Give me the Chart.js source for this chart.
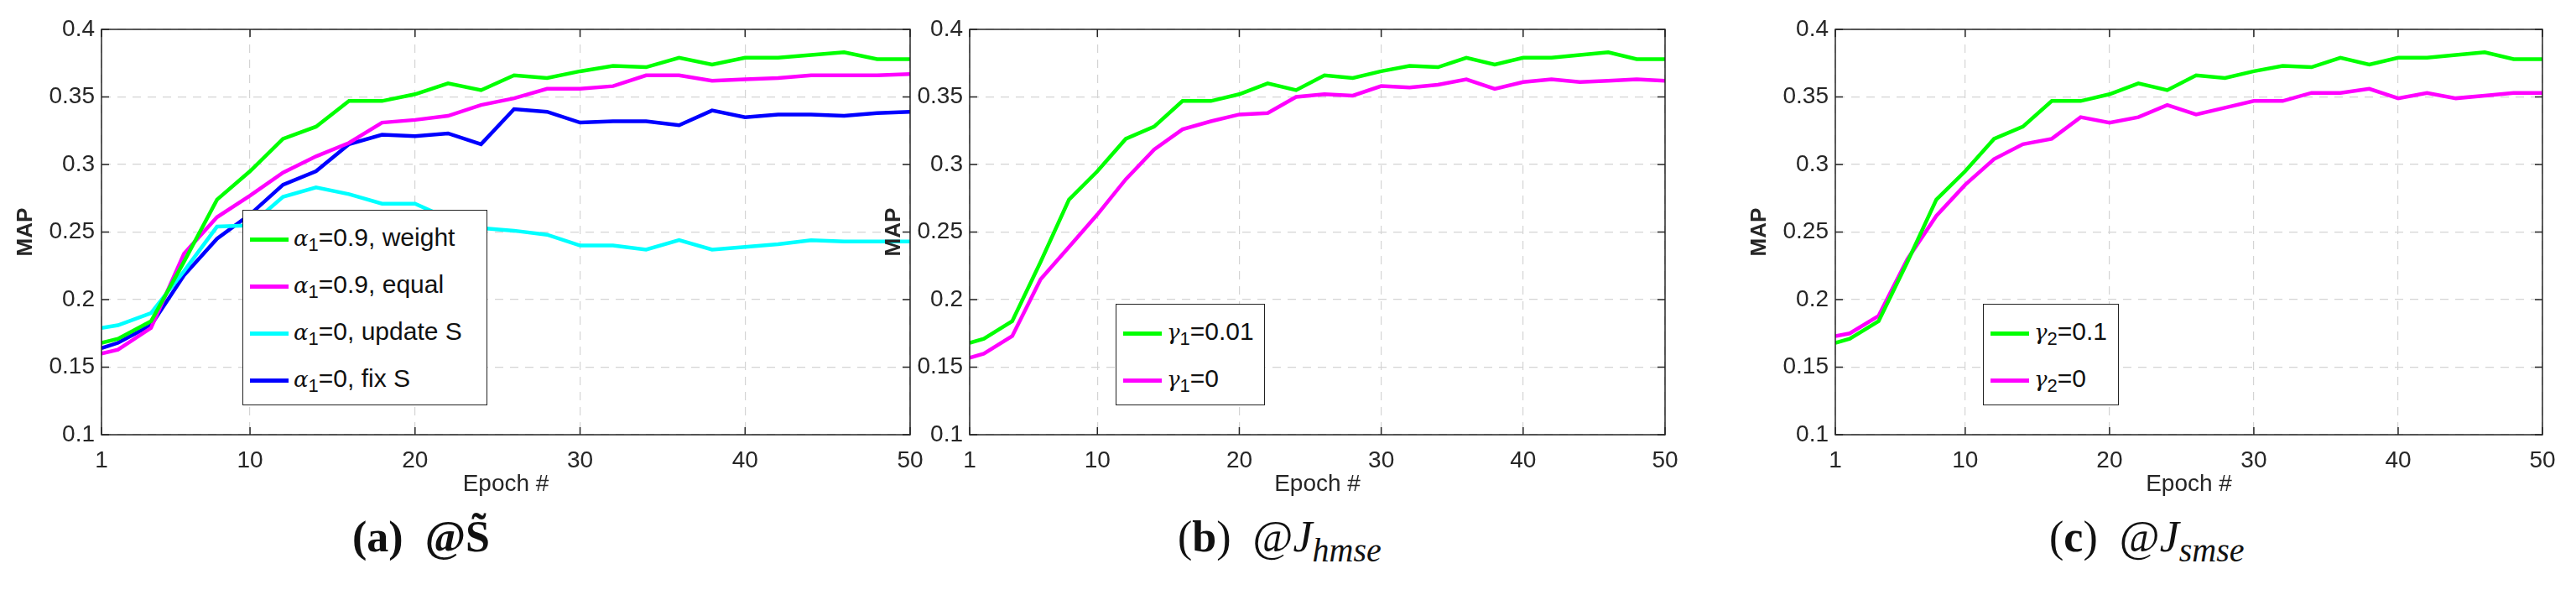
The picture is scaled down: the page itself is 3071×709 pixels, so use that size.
<!DOCTYPE html>
<html><head><meta charset="utf-8">
<script src="https://cdn.jsdelivr.net/npm/chart.js@4"></script>
<style>
body{margin:0;background:#fff;width:3071px;height:709px;position:relative;overflow:hidden;font-family:"Liberation Sans Narrow","Liberation Sans",sans-serif}
.wrap{position:absolute;top:0;height:598px}
.leg{position:absolute;border:1.5px solid #222;background:#fff;font-size:30px;color:#111}
.leg div{position:absolute;left:8px;white-space:nowrap;line-height:40px}
.leg span.sw{display:inline-block;width:46px;height:5px;margin-right:6px;vertical-align:middle}
.leg i{font-family:"DejaVu Serif",serif;font-style:italic;font-size:26px}
.leg sub{font-size:22px;position:relative;top:6px;vertical-align:baseline}
.cap{position:absolute;top:610px;font-family:"Liberation Serif",serif;font-size:52px;color:#111;white-space:nowrap}
</style></head><body>
<div class="wrap" id="wa" style="left:11px;width:1104px"><canvas id="ca"></canvas></div>
<div class="wrap" id="wb" style="left:1046px;width:969px"><canvas id="cb"></canvas></div>
<div class="wrap" id="wc" style="left:2078px;width:983px"><canvas id="cc"></canvas></div>

<div class="leg" style="left:289px;top:250px;width:290px;height:231px">
 <div style="top:12px"><span class="sw" style="background:#00ff00"></span><i>α</i><sub>1</sub>=0.9, weight</div>
 <div style="top:68px"><span class="sw" style="background:#ff00ff"></span><i>α</i><sub>1</sub>=0.9, equal</div>
 <div style="top:124px"><span class="sw" style="background:#00ffff"></span><i>α</i><sub>1</sub>=0, update S</div>
 <div style="top:180px"><span class="sw" style="background:#0000ff"></span><i>α</i><sub>1</sub>=0, fix S</div>
</div>
<div class="leg" style="left:1330px;top:362px;width:176px;height:119px">
 <div style="top:12px"><span class="sw" style="background:#00ff00"></span><i>γ</i><sub>1</sub>=0.01</div>
 <div style="top:68px"><span class="sw" style="background:#ff00ff"></span><i>γ</i><sub>1</sub>=0</div>
</div>
<div class="leg" style="left:2364px;top:362px;width:160px;height:119px">
 <div style="top:12px"><span class="sw" style="background:#00ff00"></span><i>γ</i><sub>2</sub>=0.1</div>
 <div style="top:68px"><span class="sw" style="background:#ff00ff"></span><i>γ</i><sub>2</sub>=0</div>
</div>
<div class="cap" style="left:420px"><b>(a)</b>&nbsp; <b>@S̃</b></div>
<div class="cap" style="left:1404px">(<b>b</b>)&nbsp; @<i>J<sub style="font-size:40px;vertical-align:-12px">hmse</sub></i></div>
<div class="cap" style="left:2443px">(<b>c</b>)&nbsp; @<i>J<sub style="font-size:40px;vertical-align:-12px">smse</sub></i></div>

<script>
const epochs=[1,2,4,6,8,10,12,14,16,18,20,22,24,26,28,30,32,34,36,38,40,42,44,46,48,50];
const xTicks=[1,10,20,30,40,50];
const yTicks=[0.1,0.15,0.2,0.25,0.3,0.35,0.4];
const greenWeight=[0.168,0.171,0.184,0.228,0.274,0.295,0.319,0.328,0.347,0.347,0.352,0.360,0.355,0.366,0.364,0.369,0.373,0.372,0.379,0.374,0.379,0.379,0.381,0.383,0.378,0.378];
const magentaEqual=[0.160,0.163,0.179,0.234,0.261,0.277,0.294,0.306,0.316,0.331,0.333,0.336,0.344,0.349,0.356,0.356,0.358,0.366,0.366,0.362,0.363,0.364,0.366,0.366,0.366,0.367];
const cyanUpdateS=[0.179,0.181,0.190,0.221,0.254,0.255,0.276,0.283,0.278,0.271,0.271,0.260,0.253,0.251,0.248,0.240,0.240,0.237,0.244,0.237,0.239,0.241,0.244,0.243,0.243,0.243];
const blueFixS=[0.164,0.168,0.181,0.218,0.245,0.263,0.285,0.295,0.315,0.322,0.321,0.323,0.315,0.341,0.339,0.331,0.332,0.332,0.329,0.340,0.335,0.337,0.337,0.336,0.338,0.339];
const gamma1Zero=[0.157,0.160,0.173,0.215,0.239,0.263,0.289,0.311,0.326,0.332,0.337,0.338,0.350,0.352,0.351,0.358,0.357,0.359,0.363,0.356,0.361,0.363,0.361,0.362,0.363,0.362];
const gamma2Zero=[0.173,0.175,0.188,0.230,0.262,0.285,0.304,0.315,0.319,0.335,0.331,0.335,0.344,0.337,0.342,0.347,0.347,0.353,0.353,0.356,0.349,0.353,0.349,0.351,0.353,0.353];

const F='"Liberation Sans Narrow","Liberation Sans",sans-serif';
const pts=v=>v.map((y,i)=>({x:epochs[i],y}));
const ds=(v,c)=>({data:pts(v),borderColor:c,borderWidth:4.5,pointRadius:0,fill:false,tension:0});
const border={id:'border',afterDraw(ch){const a=ch.chartArea,c=ch.ctx;c.save();c.strokeStyle='#262626';c.lineWidth=1.5;c.strokeRect(a.left,a.top,a.right-a.left,a.bottom-a.top);
 const xs=ch.scales.x,ys=ch.scales.y;c.beginPath();
 xTicks.forEach(t=>{const p=xs.getPixelForValue(t);c.moveTo(p,a.bottom);c.lineTo(p,a.bottom-9);c.moveTo(p,a.top);c.lineTo(p,a.top+9);});
 yTicks.forEach(t=>{const p=ys.getPixelForValue(t);c.moveTo(a.left,p);c.lineTo(a.left+9,p);c.moveTo(a.right,p);c.lineTo(a.right-9,p);});
 c.stroke();c.restore();}};
function make(id,sets,yw,rp){
 new Chart(document.getElementById(id),{type:'line',data:{datasets:sets},plugins:[border],
 options:{responsive:true,maintainAspectRatio:false,animation:false,
  layout:{padding:{top:35,right:rp,left:0,bottom:0}},
  plugins:{legend:{display:false},tooltip:{enabled:false}},
  scales:{
   x:{type:'linear',min:1,max:50,afterBuildTicks:s=>{s.ticks=xTicks.map(v=>({value:v}));},
     afterFit:s=>{s.height=80},
     grid:{color:'#d4d4d4',lineWidth:1.2,drawTicks:false},border:{display:true,color:'rgba(0,0,0,0)',dash:[10,8]},
     ticks:{color:'#262626',font:{family:F,size:28},padding:14,maxRotation:0},
     title:{display:true,text:'Epoch #',color:'#262626',font:{family:F,size:28},padding:{top:0}}},
   y:{min:0.1,max:0.4,afterBuildTicks:s=>{s.ticks=yTicks.map(v=>({value:v}));},
     afterFit:s=>{s.width=yw},
     grid:{color:'#d4d4d4',lineWidth:1.2,drawTicks:false},border:{display:true,color:'rgba(0,0,0,0)',dash:[10,8]},
     ticks:{color:'#262626',font:{family:F,size:28},padding:8,callback:v=>String(+v.toFixed(2))},
     title:{display:true,text:'MAP',color:'#262626',font:{family:'"Liberation Sans",sans-serif',size:26,weight:'bold'},padding:{bottom:6}}}
  }}});
}
make('ca',[ds(greenWeight,'#00ff00'),ds(magentaEqual,'#ff00ff'),ds(cyanUpdateS,'#00ffff'),ds(blueFixS,'#0000ff')],110,30);
make('cb',[ds(greenWeight,'#00ff00'),ds(gamma1Zero,'#ff00ff')],110,30);
make('cc',[ds(greenWeight,'#00ff00'),ds(gamma2Zero,'#ff00ff')],110,30);
</script></body></html>
